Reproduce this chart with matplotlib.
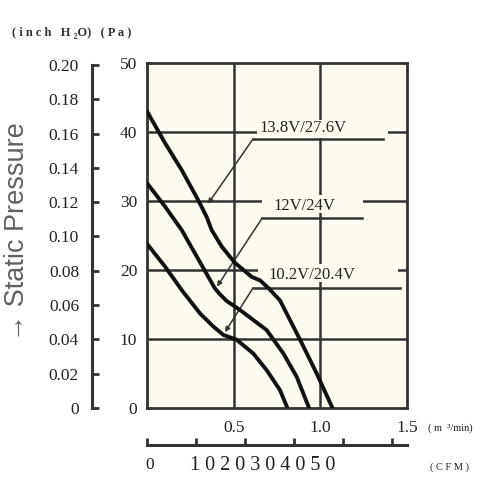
import matplotlib
matplotlib.use("Agg")
import matplotlib.pyplot as plt
from matplotlib.patches import Rectangle

# ---- data ----
flow_138 = [0.0, 0.104, 0.200, 0.296, 0.344, 0.373, 0.431, 0.505, 0.604, 0.652, 0.700,
            0.767, 0.883, 0.979, 1.07]
pres_138 = [43.0, 38.4, 34.5, 30.1, 27.7, 25.8, 23.4, 21.1, 19.0, 18.5, 17.4,
            15.6, 9.9, 5.0, 0.0]

flow_12 = [0.0, 0.104, 0.200, 0.277, 0.354, 0.39, 0.42, 0.46, 0.537, 0.69, 0.787, 0.864, 0.935]
pres_12 = [32.6, 29.2, 25.8, 22.4, 19.0, 17.4, 16.5, 15.5, 14.2, 11.3, 7.9, 4.5, 0.0]

flow_102 = [0.0, 0.104, 0.200, 0.306, 0.383, 0.44, 0.517, 0.613, 0.69, 0.767, 0.81]
pres_102 = [23.8, 20.5, 17.1, 13.7, 11.8, 10.6, 9.9, 7.9, 5.5, 2.6, 0.0]

labels = ["13.8V/27.6V", "12V/24V", "10.2V/20.4V"]
pa_ticks = [0, 10, 20, 30, 40, 50]
inch_ticks = [0, 0.02, 0.04, 0.06, 0.08, 0.10, 0.12, 0.14, 0.16, 0.18, 0.20]
inch_labels = ["0", "0.02", "0.04", "0.06", "0.08", "0.10", "0.12", "0.14", "0.16", "0.18", "0.20"]
m3_ticks = [0.5, 1.0, 1.5]
m3_labels = ["0.5", "1.0", "1.5"]
cfm_ticks = [0, 10, 20, 30, 40, 50]

SERIF = ["Liberation Serif", "DejaVu Serif"]
DARK = "#333333"
BG = "#FDFAF0"

fig = plt.figure(figsize=(5, 5), dpi=100)

# ---- main plot ----
ax = fig.add_axes([0.294, 0.184, 0.52, 0.69])
ax.set_facecolor(BG)
ax.set_xlim(0, 1.5)
ax.set_ylim(0, 50)
for s in ax.spines.values():
    s.set_linewidth(2.0)
    s.set_color(DARK)
ax.set_yticks(pa_ticks)
ax.set_yticklabels([str(v) for v in pa_ticks], fontfamily=SERIF, fontsize=12.5, color="#222")
ax.set_xticks(m3_ticks)
ax.set_xticklabels(m3_labels, fontfamily=SERIF, fontsize=12.5, color="#222")
ax.tick_params(axis="both", length=0)
ax.tick_params(axis="y", pad=7)
ax.tick_params(axis="x", pad=9)
for gx in [0.5, 1.0]:
    ax.axvline(gx, color=DARK, lw=1.8, zorder=1)
for gy in [10, 20, 30, 40]:
    ax.axhline(gy, color=DARK, lw=1.8, zorder=1)

# curves
for fx, py in [(flow_138, pres_138), (flow_12, pres_12), (flow_102, pres_102)]:
    ax.plot(fx, py, color="#111111", lw=2.8, zorder=5, solid_capstyle="round",
            solid_joinstyle="round")

# label gaps (cream boxes hiding grid), text, leader lines
gaps = [(0.635, 39.2, 0.755, 2.5), (0.664, 28.2, 0.58, 2.6), (0.64, 18.2, 0.81, 2.6)]
text_pos = [(0.90, 40.6), (0.906, 29.3), (0.95, 19.3)]
under = [(0.612, 1.362, 39.0), (0.664, 1.24, 27.5), (0.612, 1.46, 17.4)]
tips = [(0.352, 29.6), (0.404, 17.6), (0.45, 11.0)]
for (gx, gy, gw, gh), (tx, ty), (ux0, ux1, uy), (ax_, ay_), lab in zip(gaps, text_pos, under, tips, labels):
    ax.add_patch(Rectangle((gx, gy), gw, gh, facecolor=BG, edgecolor="none", zorder=2))
    ax.text(tx, ty, lab, ha="center", va="center", fontfamily=SERIF, fontsize=12,
            color="#222", zorder=6)
    ax.plot([ux0, ux1], [uy, uy], color=DARK, lw=1.8, zorder=3)
    ax.annotate("", xy=(ax_, ay_), xytext=(ux0, uy),
                arrowprops=dict(arrowstyle="-|>", color=DARK, lw=1.1,
                                mutation_scale=7, shrinkA=0, shrinkB=0),
                zorder=4)

# ---- left inch H2O axis ----
axl = fig.add_axes([0.183, 0.184, 0.0001, 0.686])
axl.set_ylim(0, 0.2)
axl.set_xticks([])
for k in ["top", "right", "bottom"]:
    axl.spines[k].set_visible(False)
axl.spines["left"].set_linewidth(2.2)
axl.spines["left"].set_color(DARK)
axl.set_yticks(inch_ticks)
axl.set_yticklabels(inch_labels, fontfamily=SERIF, fontsize=12.5, color="#222")
axl.tick_params(axis="y", direction="in", length=5, width=2, color=DARK, pad=9)
axl.patch.set_visible(False)

# ---- bottom CFM axis ----
axc = fig.add_axes([0.294, 0.11, 0.52, 0.0001])
axc.set_xlim(0, 1.5 / 0.0283168)
axc.set_yticks([])
for k in ["top", "right", "left"]:
    axc.spines[k].set_visible(False)
axc.spines["bottom"].set_linewidth(2.2)
axc.spines["bottom"].set_color(DARK)
axc.set_xticks(cfm_ticks)
axc.set_xticklabels([])
axc.tick_params(axis="x", direction="in", length=5, width=2, color=DARK)
axc.patch.set_visible(False)

fig.text(0.300, 0.070, "0", ha="center", va="center", fontfamily=SERIF, fontsize=12.5, color="#222")
fig.text(0.380, 0.070, "1 0 2 0 3 0 4 0 5 0", ha="left", va="center",
         fontfamily=SERIF, fontsize=14.5, color="#222")
fig.text(0.860, 0.066, "( C F M )", ha="left", va="center", fontfamily=SERIF, fontsize=7.5, color="#222")
fig.text(0.856, 0.144, "( m  \u00b3/min)", ha="left", va="center", fontfamily=SERIF, fontsize=7.5, color="#222")
fig.text(0.024, 0.934, "( i n c h   H \u2082O)   ( P a )", ha="left", va="center",
         fontfamily=SERIF, fontsize=9, fontweight="bold", color="#333")

fig.text(0.034, 0.536, "\u2192 Static Pressure", rotation=90, ha="center", va="center",
         fontfamily=["Liberation Sans Narrow", "Liberation Sans", "DejaVu Sans"],
         fontsize=19.5, color="#606060")

fig.savefig("out.png", dpi=100, facecolor="white")
